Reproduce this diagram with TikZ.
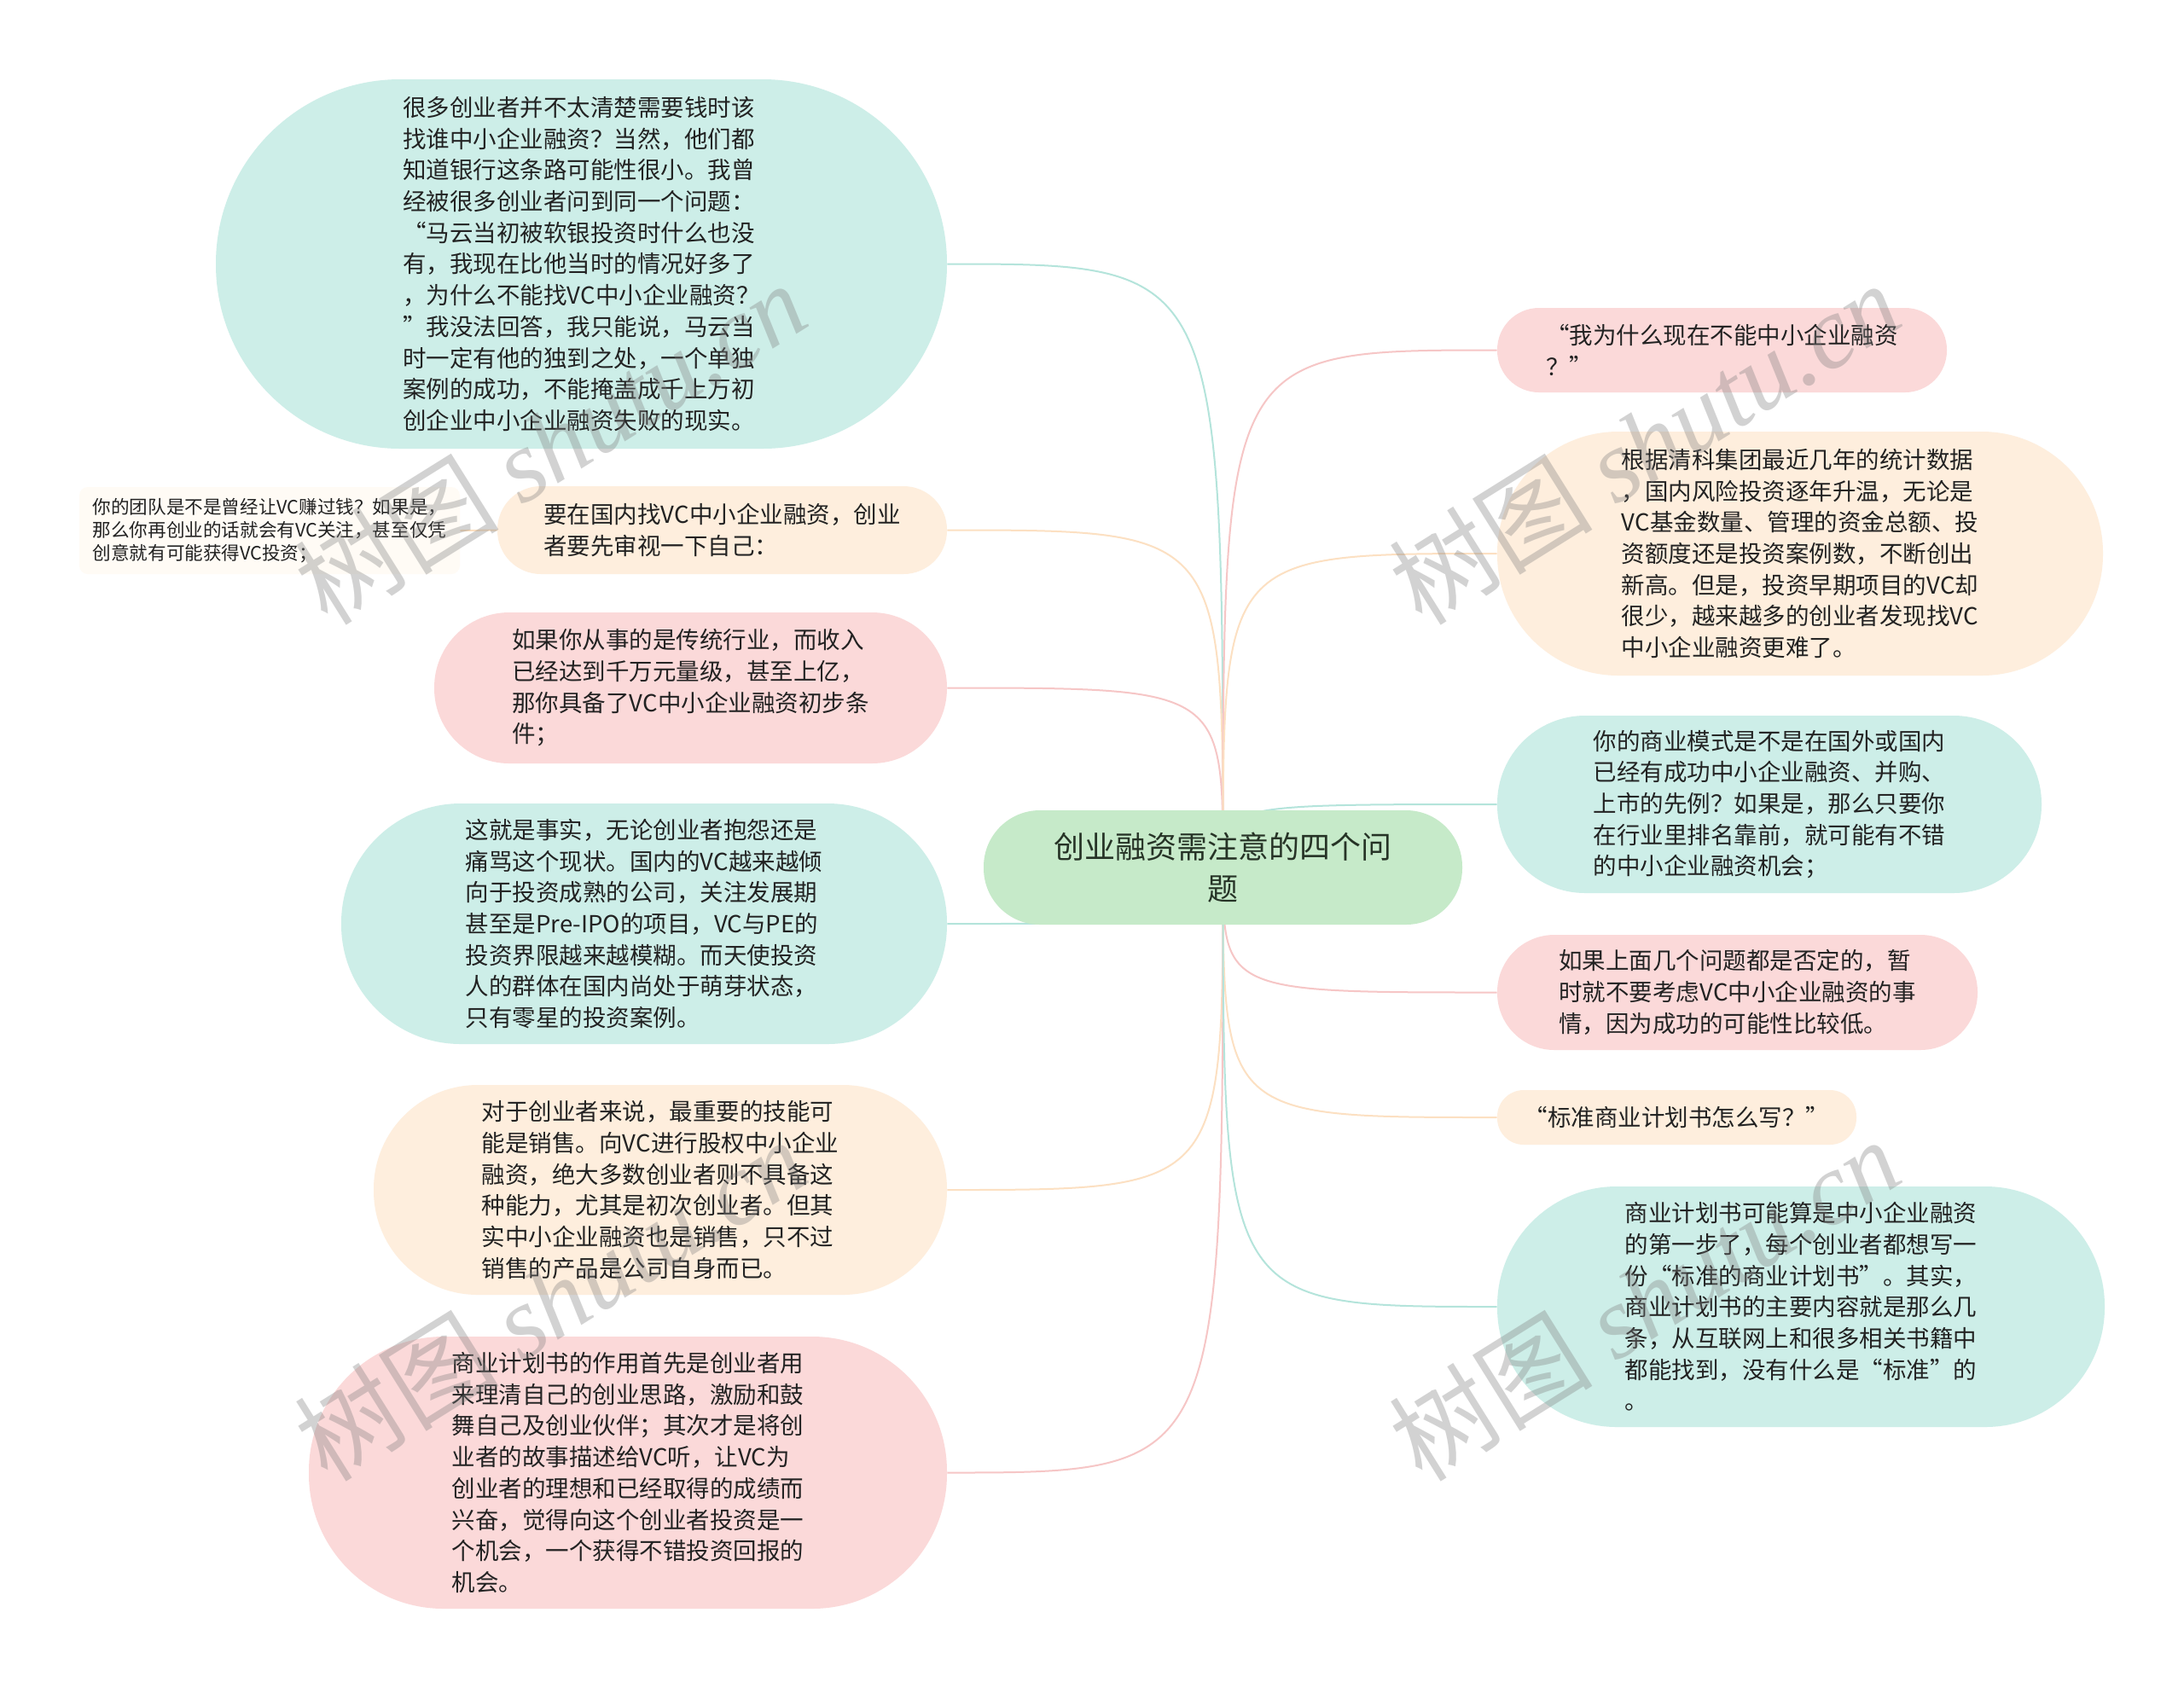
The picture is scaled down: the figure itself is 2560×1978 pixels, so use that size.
\documentclass[tikz,border=0pt]{standalone}
\usepackage{fontspec}
\setmainfont{Noto Sans CJK SC}
\newfontfamily\wmlatin{Liberation Serif}
\pgfdeclarelayer{back0}
\pgfdeclarelayer{bg}
\pgfsetlayers{back0,bg,main}
\definecolor{tealF}{HTML}{CDEEE8}
\definecolor{pinkF}{HTML}{FBD9D9}
\definecolor{peachF}{HTML}{FEEEDD}
\definecolor{rootF}{HTML}{C6EAC9}
\definecolor{faintF}{HTML}{FFFBF5}
\definecolor{tealL}{HTML}{B4E4DB}
\definecolor{pinkL}{HTML}{F6C6C6}
\definecolor{peachL}{HTML}{FCE0C2}
\definecolor{txt}{HTML}{222222}
\definecolor{roottxt}{HTML}{263326}
\tikzset{
  bub/.style n args={3}{minimum width=#1pt, minimum height=#2pt, rounded corners=#3pt,
    inner sep=0pt, align=left, text=txt, font=\fontsize{13.75}{18.35}\selectfont},
  tealbox/.style={fill=tealF},
  pinkbox/.style={fill=pinkF},
  peachbox/.style={fill=peachF},
  rootbox/.style={fill=rootF, minimum width=280.5pt, minimum height=67pt, rounded corners=33pt,
    inner sep=0pt, align=center, text=roottxt, font=\fontsize{18}{24.5}\selectfont},
  smallbox/.style={fill=faintF, minimum width=223pt, minimum height=51pt, rounded corners=5pt,
    inner sep=0pt, align=left, text=txt, font=\fontsize{10.8}{13.5}\selectfont},
  conn/.style={line width=1pt},
  tealline/.style={conn, draw=tealL},
  pinkline/.style={conn, draw=pinkL},
  peachline/.style={conn, draw=peachL},
  wm/.style={text=gray, text opacity=0.35, rotate=32, font=\fontsize{60}{60}\selectfont, inner sep=0pt},
}
\begin{document}
\begin{tikzpicture}[x=0.5pt,y=-0.5pt]
\begin{pgfonlayer}{back0}
\fill[white] (0,0) rectangle (2560,1978);
\end{pgfonlayer}
\useasboundingbox (0,0) rectangle (2560,1978);

% root
\node[rootbox] (root) at (1433.5,1017) {创业融资需注意的四个问\\题};

% left side
\node[bub={428.5}{216.5}{108}, tealbox] (L1) at (681.5,309.5)
 {很多创业者并不太清楚需要钱时该\\找谁中小企业融资？当然，他们都\\知道银行这条路可能性很小。我曾\\经被很多创业者问到同一个问题：\\“马云当初被软银投资时什么也没\\有，我现在比他当时的情况好多了\\，为什么不能找VC中小企业融资？\\”我没法回答，我只能说，马云当\\时一定有他的独到之处，一个单独\\案例的成功，不能掩盖成千上万初\\创企业中小企业融资失败的现实。};
\node[bub={263.5}{51.5}{25.5}, peachbox] (L2) at (846.5,621.5)
 {要在国内找VC中小企业融资，创业\\者要先审视一下自己：};
\node[smallbox] (S) at (316,622)
 {你的团队是不是曾经让VC赚过钱？如果是，\\那么你再创业的话就会有VC关注，甚至仅凭\\创意就有可能获得VC投资；};
\node[bub={300.5}{88.5}{44}, pinkbox] (L3) at (809.5,806.5)
 {如果你从事的是传统行业，而收入\\已经达到千万元量级，甚至上亿，\\那你具备了VC中小企业融资初步条\\件；};
\node[bub={355}{141}{70}, tealbox] (L4) at (755,1083)
 {这就是事实，无论创业者抱怨还是\\痛骂这个现状。国内的VC越来越倾\\向于投资成熟的公司，关注发展期\\甚至是Pre-IPO的项目，VC与PE的\\投资界限越来越模糊。而天使投资\\人的群体在国内尚处于萌芽状态，\\只有零星的投资案例。};
\node[bub={336}{123}{61}, peachbox] (L5) at (774,1395)
 {对于创业者来说，最重要的技能可\\能是销售。向VC进行股权中小企业\\融资，绝大多数创业者则不具备这\\种能力，尤其是初次创业者。但其\\实中小企业融资也是销售，只不过\\销售的产品是公司自身而已。};
\node[bub={374}{159.5}{79}, pinkbox] (L6) at (736,1726.5)
 {商业计划书的作用首先是创业者用\\来理清自己的创业思路，激励和鼓\\舞自己及创业伙伴；其次才是将创\\业者的故事描述给VC听，让VC为\\创业者的理想和已经取得的成绩而\\兴奋，觉得向这个创业者投资是一\\个机会，一个获得不错投资回报的\\机会。};

% right side
\node[bub={263.5}{49.5}{24.5}, pinkbox] (R1) at (2018.5,410.5)
 {“我为什么现在不能中小企业融资\\？”};
\node[bub={355}{143}{71}, peachbox] (R2) at (2110,649)
 {根据清科集团最近几年的统计数据\\，国内风险投资逐年升温，无论是\\VC基金数量、管理的资金总额、投\\资额度还是投资案例数，不断创出\\新高。但是，投资早期项目的VC却\\很少，越来越多的创业者发现找VC\\中小企业融资更难了。};
\node[bub={319}{104}{51.5}, tealbox] (R3) at (2074,943)
 {你的商业模式是不是在国外或国内\\已经有成功中小企业融资、并购、\\上市的先例？如果是，那么只要你\\在行业里排名靠前，就可能有不错\\的中小企业融资机会；};
\node[bub={281.5}{67.5}{33.5}, pinkbox] (R4) at (2036.5,1163.5)
 {如果上面几个问题都是否定的，暂\\时就不要考虑VC中小企业融资的事\\情，因为成功的可能性比较低。};
\node[bub={210.5}{32}{15.5}, peachbox] (R5) at (1965.5,1310)
 {“标准商业计划书怎么写？”};
\node[bub={356}{141}{70}, tealbox] (R6) at (2111,1532)
 {商业计划书可能算是中小企业融资\\的第一步了，每个创业者都想写一\\份“标准的商业计划书”。其实，\\商业计划书的主要内容就是那么几\\条，从互联网上和很多相关书籍中\\都能找到，没有什么是“标准”的\\。};

% connectors
\begin{pgfonlayer}{bg}
\draw[tealline]  (root.center) .. controls (root.center |- L1.east) .. (L1.east);
\draw[peachline] (root.center) .. controls (root.center |- L2.east) .. (L2.east);
\draw[pinkline]  (root.center) .. controls (root.center |- L3.east) .. (L3.east);
\draw[tealline]  (root.center) .. controls (root.center |- L4.east) .. (L4.east);
\draw[peachline] (root.center) .. controls (root.center |- L5.east) .. (L5.east);
\draw[pinkline]  (root.center) .. controls (root.center |- L6.east) .. (L6.east);
\draw[pinkline]  (root.center) .. controls (root.center |- R1.west) .. (R1.west);
\draw[peachline] (root.center) .. controls (root.center |- R2.west) .. (R2.west);
\draw[tealline]  (root.center) .. controls (root.center |- R3.west) .. (R3.west);
\draw[pinkline]  (root.center) .. controls (root.center |- R4.west) .. (R4.west);
\draw[peachline] (root.center) .. controls (root.center |- R5.west) .. (R5.west);
\draw[tealline]  (root.center) .. controls (root.center |- R6.west) .. (R6.west);
\draw[peachline] (L2.west) -- (S.east);
\end{pgfonlayer}

% watermarks
\node[wm] (w1) at (645,519) {树图 {\wmlatin\itshape shutu.cn}};
\node[wm] (w2) at (1927,519) {树图 {\wmlatin\itshape shutu.cn}};
\node[wm] (w3) at (645,1523) {树图 {\wmlatin\itshape shutu.cn}};
\node[wm] (w4) at (1927,1523) {树图 {\wmlatin\itshape shutu.cn}};
\end{tikzpicture}
\end{document}
